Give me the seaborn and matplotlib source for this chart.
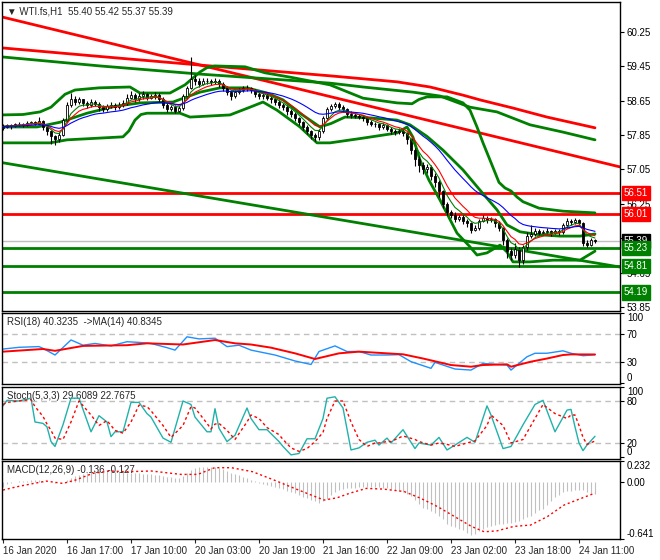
import numpy as np
import pandas as pd
import seaborn as sns
import matplotlib
matplotlib.use("Agg")
import matplotlib.pyplot as plt
import matplotlib.transforms as mtransforms

# WTI.fs H1 candles, 16 Jan 2020 -> 24 Jan 2020
first_open = 58.02
closes = [58.05, 58.08, 58.06, 58.10, 58.12, 58.09, 58.13, 58.15, 58.12, 58.18,
          58.05, 57.95, 57.82, 57.75, 57.85, 58.20, 58.55, 58.70, 58.62, 58.68,
          58.60, 58.55, 58.62, 58.58, 58.50, 58.45, 58.52, 58.55, 58.50, 58.55,
          58.60, 58.72, 58.78, 58.70, 58.75, 58.80, 58.72, 58.76, 58.78, 58.70,
          58.55, 58.45, 58.50, 58.42, 58.48, 58.75, 58.95, 59.15, 59.10, 59.05,
          59.10, 59.12, 59.08, 59.12, 59.05, 58.95, 58.85, 58.75, 58.85, 58.90,
          58.95, 58.95, 58.90, 58.80, 58.75, 58.78, 58.72, 58.68, 58.62, 58.55,
          58.50, 58.40, 58.35, 58.25, 58.15, 58.05, 57.95, 57.85, 57.80, 57.95,
          58.25, 58.45, 58.52, 58.58, 58.50, 58.45, 58.35, 58.32, 58.30, 58.28,
          58.25, 58.15, 58.12, 58.10, 58.05, 58.08, 58.00, 57.95, 57.92, 57.95,
          57.90, 57.75, 57.50, 57.30, 57.15, 57.05, 57.10, 56.90, 56.75, 56.55,
          56.25, 56.05, 56.00, 55.90, 55.95, 55.85, 55.80, 55.65, 55.70, 55.85,
          55.92, 55.88, 55.90, 55.80, 55.70, 55.40, 55.15, 55.05, 55.20, 54.95,
          55.25, 55.50, 55.55, 55.62, 55.58, 55.60, 55.63, 55.58, 55.62, 55.60,
          55.75, 55.85, 55.82, 55.88, 55.80, 55.35, 55.30, 55.40, 55.39]
highs = [58.10, 58.12, 58.11, 58.14, 58.16, 58.14, 58.17, 58.19, 58.18, 58.28,
         58.20, 58.08, 57.98, 57.86, 57.92, 58.25, 58.62, 58.82, 58.75, 58.74,
         58.70, 58.64, 58.70, 58.66, 58.62, 58.54, 58.58, 58.62, 58.60, 58.61,
         58.66, 58.80, 58.88, 58.82, 58.82, 58.88, 58.84, 58.80, 58.85, 58.82,
         58.73, 58.60, 58.56, 58.54, 58.53, 58.80, 59.00, 59.67, 59.25, 59.18,
         59.17, 59.19, 59.16, 59.17, 59.15, 59.08, 59.00, 58.90, 58.90, 58.95,
         59.00, 59.02, 58.98, 58.93, 58.85, 58.84, 58.82, 58.76, 58.72, 58.66,
         58.60, 58.54, 58.45, 58.38, 58.28, 58.18, 58.08, 57.98, 57.90, 58.00,
         58.30, 58.50, 58.58, 58.62, 58.62, 58.55, 58.48, 58.40, 58.37, 58.35,
         58.32, 58.28, 58.20, 58.16, 58.14, 58.13, 58.11, 58.05, 58.00, 58.01,
         57.99, 57.93, 57.78, 57.55, 57.36, 57.22, 57.18, 57.15, 56.96, 56.80,
         56.58, 56.30, 56.10, 56.05, 56.00, 55.98, 55.90, 55.82, 55.76, 55.90,
         55.98, 55.96, 55.95, 55.92, 55.84, 55.72, 55.45, 55.22, 55.35, 55.25,
         55.30, 55.60, 55.75, 55.68, 55.66, 55.65, 55.68, 55.64, 55.67, 55.66,
         55.80, 55.92, 55.90, 55.93, 55.90, 55.82, 55.42, 55.45, 55.43]
lows = [57.98, 58.02, 58.00, 58.03, 58.07, 58.05, 58.06, 58.10, 58.08, 58.10,
        57.98, 57.85, 57.65, 57.62, 57.70, 57.82, 58.15, 58.50, 58.55, 58.58,
        58.52, 58.48, 58.50, 58.52, 58.42, 58.38, 58.40, 58.48, 58.44, 58.46,
        58.50, 58.56, 58.68, 58.62, 58.65, 58.70, 58.66, 58.70, 58.68, 58.62,
        58.48, 58.38, 58.40, 58.36, 58.38, 58.44, 58.70, 58.92, 59.02, 58.98,
        59.02, 59.05, 59.02, 59.03, 58.98, 58.88, 58.78, 58.67, 58.72, 58.80,
        58.86, 58.88, 58.84, 58.74, 58.68, 58.70, 58.66, 58.60, 58.55, 58.48,
        58.43, 58.32, 58.28, 58.18, 58.08, 57.98, 57.88, 57.76, 57.72, 57.74,
        57.90, 58.20, 58.42, 58.48, 58.44, 58.38, 58.28, 58.26, 58.24, 58.22,
        58.18, 58.08, 58.06, 58.04, 57.98, 58.00, 57.94, 57.88, 57.86, 57.88,
        57.82, 57.65, 57.40, 57.12, 57.00, 56.95, 56.96, 56.80, 56.64, 56.40,
        56.15, 55.98, 55.92, 55.82, 55.85, 55.78, 55.72, 55.58, 55.62, 55.65,
        55.82, 55.80, 55.82, 55.72, 55.62, 55.30, 55.00, 54.95, 54.98, 54.78,
        54.85, 55.18, 55.45, 55.50, 55.50, 55.52, 55.56, 55.50, 55.54, 55.52,
        55.55, 55.70, 55.75, 55.78, 55.74, 55.28, 55.25, 55.28, 55.35]

ma_spans = {"green": 5, "red": 8, "blue": 21}

# Bollinger band lines (bar index, price)
bb_up_bars = [-0.25, 5, 9.25, 12, 15.5, 18, 24, 31.75, 34.25, 41.75, 45.5, 47.5, 49.25, 51, 53,
              60.5, 65.5, 71.75, 81.75, 90, 98.5, 102.25, 104, 106, 111, 115,
              116.75, 118.5, 120, 121.75, 124, 125.5, 127, 128.5, 130, 134, 140, 148]
bb_up = [58.32, 58.33, 58.39, 58.50, 58.80, 58.90, 58.95, 58.97, 58.83, 58.83, 59.02, 59.18, 59.32, 59.42, 59.46,
         59.44, 59.30, 59.20, 59.02, 58.71, 58.60, 58.58, 58.68, 58.74, 58.74, 58.60,
         58.43, 58.04, 57.67, 57.27, 56.75, 56.62, 56.55, 56.41, 56.30, 56.15, 56.08, 56.04]
bb_mid_bars = [-0.25, 8.5, 14.25, 21, 28, 34.25, 42.5, 46, 49.25, 54.25, 61,
               66, 70, 74.25, 79.25, 82, 85.5, 92, 98.5, 101.75, 106, 110, 115, 119.25,
               123.5, 126, 129.25, 134.25, 139.25, 144.25, 148]
bb_mid = [58.04, 58.04, 58.15, 58.36, 58.52, 58.60, 58.62, 58.74, 58.85, 58.95, 58.95,
          58.83, 58.67, 58.36, 58.04, 58.12, 58.27, 58.25, 58.20, 58.09, 57.82, 57.50, 57.04, 56.57,
          56.11, 55.76, 55.60, 55.53, 55.50, 55.50, 55.55]
bb_lo_bars = [-0.25, 11.75, 16, 30, 31.5, 33, 34.5, 36, 44.25, 46.75, 56.75, 61.75,
              65, 68.5, 74.25, 78.5, 81.75, 90, 98.5, 101, 102.5, 104.25, 106.5, 109.25,
              113.5, 116.75, 118.5, 121, 124.25, 126, 127.5, 131.75, 137.5, 144.25, 148]
bb_lo = [57.67, 57.67, 57.74, 57.81, 57.95, 58.20, 58.33, 58.36, 58.36, 58.27, 58.32, 58.50,
         58.62, 58.43, 58.04, 57.67, 57.67, 57.78, 57.90, 58.04, 57.80, 57.27, 56.80, 56.34,
         55.57, 55.25, 55.06, 55.11, 55.29, 55.13, 54.90, 54.90, 54.94, 54.94, 55.15]

# slow averages
slow_red_bars = [-0.25, 24.25, 49.25, 81.75, 98.5, 106.75, 115, 119.25, 127.5, 136, 148]
slow_red = [59.88, 59.68, 59.48, 59.23, 59.09, 58.97, 58.78, 58.67, 58.48, 58.27, 58.02]
slow_green_bars = [-0.25, 24.25, 49.25, 81.75, 90, 102.5, 109.25, 116.75, 123.5, 131.75, 140, 148]
slow_green = [59.67, 59.46, 59.27, 59.06, 58.97, 58.85, 58.76, 58.50, 58.39, 58.09, 57.92, 57.74]

# trend lines (value at left and right edge of the chart)
trend_ends = [-0.25, 154.25]
trend_red = [60.60, 57.11]
trend_green = [57.21, 54.78]

res_levels = [56.51, 56.01]
sup_levels = [55.23, 54.81, 54.19]
last_price = 55.39
price_ticks = [60.25, 59.45, 58.65, 57.85, 57.05, 56.25, 55.45, 54.65, 53.85]
price_labels = ["60.25", "59.45", "58.65", "57.85", "57.05", "56.25", "", "54.65", "53.85"]

# RSI(18) and its MA(14)
rsi_bars = [0, 4, 9, 10, 13, 17, 20, 23, 27, 31, 34, 37, 41, 43, 46, 49, 53, 56, 59, 62,
            68, 73, 77, 79, 83, 86, 89, 92, 96, 99, 102, 107, 108, 113, 117, 120, 126, 127,
            131, 133, 136, 140, 142, 145, 148]
rsi_vals = [48.5, 51, 52, 49.5, 40, 61.5, 54, 56.5, 53, 59, 58, 56.5, 50.5, 47, 66, 63, 64, 52,
            54, 47, 40, 31.5, 26.5, 45, 53, 45, 45, 40, 40, 40.5, 30.5, 21, 29.5, 20, 18.5,
            28, 25.5, 18.5, 37.5, 42.5, 42.5, 46, 42.5, 39, 40.3]
rsi_ma_bars = [0, 10, 13, 20, 31, 36, 45, 53, 58, 62, 67, 73, 78, 84, 89, 100, 105, 112, 117,
               120, 126, 127, 132, 136, 140, 142, 148]
rsi_ma_vals = [44.8, 48.6, 46, 53, 54, 56.7, 55, 61.4, 56.7, 55, 50.5, 42.4, 34.3, 42.4, 44.8,
               41, 35, 25.7, 23.3, 25.7, 26.7, 23.3, 30.5, 35, 40, 40.9, 40.8]

# Stochastic(5,3,3)
stoch_bars = [0, 1, 4, 7, 8, 10, 11, 12, 13, 15, 17, 19, 22, 24, 26, 27, 28, 30, 32, 34,
              36, 37, 40, 42, 45, 47, 48, 51, 52, 53, 54, 56, 58, 61, 62, 64, 66, 69, 70, 72,
              74, 76, 78, 80, 81, 83, 85, 87, 89, 91, 93, 94, 96, 97, 100, 103, 104, 107, 109, 111,
              113, 116, 118, 121, 122, 125, 127, 130, 133, 135, 138, 141, 142, 143, 144, 145, 146, 148]
stoch_main = [73, 81, 80, 84, 50, 48, 43, 22, 15, 46, 84, 84, 36, 59, 50, 29, 36, 36, 78, 78,
              62, 57, 27, 21, 80, 75, 57, 36, 36, 69, 41, 22, 31, 70, 55, 39, 39, 22, 15, 3,
              5, 26, 26, 55, 84, 86, 70, 10, 13, 21, 24, 17, 27, 20, 39, 12, 20, 17, 28, 10,
              17, 28, 21, 73, 60, 12, 15, 46, 75, 81, 36, 67, 68, 43, 20, 9, 17, 29.6]
stoch_signal = [75, 78, 80, 82, 72, 58, 47, 38, 27, 25, 50, 80, 60, 45, 52, 45, 38, 34, 50, 74,
                72, 66, 45, 28, 45, 72, 70, 48, 40, 47, 48, 38, 25, 50, 60, 55, 42, 32, 25, 13,
                8, 12, 22, 35, 55, 80, 80, 50, 25, 15, 20, 20, 22, 22, 30, 25, 22, 17, 20, 18,
                15, 20, 23, 45, 60, 45, 20, 25, 55, 75, 62, 55, 60, 60, 45, 28, 18, 22.8]

# MACD(12,26,9): histogram per bar, signal line
macd_hist = [-0.06, -0.03, -0.01, 0.0, 0.01, 0.01, 0.01, 0.02, 0.02, 0.02,
             0.01, 0.0, 0.0, -0.01, 0.0, 0.0, 0.02, 0.04, 0.06, 0.08,
             0.09, 0.10, 0.11, 0.12, 0.13, 0.13, 0.12, 0.12, 0.11, 0.11,
             0.105, 0.10, 0.10, 0.095, 0.095, 0.09, 0.09, 0.09, 0.08, 0.07,
             0.06, 0.055, 0.05, 0.045, 0.045, 0.06, 0.10, 0.13, 0.15, 0.16,
             0.17, 0.17, 0.165, 0.16, 0.155, 0.14, 0.12, 0.10, 0.085, 0.07,
             0.055, 0.04, 0.02, 0.005, -0.01, -0.02, -0.035, -0.045, -0.055, -0.07,
             -0.08, -0.10, -0.12, -0.13, -0.15, -0.17, -0.185, -0.20, -0.22, -0.24,
             -0.22, -0.19, -0.15, -0.11, -0.095, -0.085, -0.075, -0.07, -0.065, -0.06,
             -0.055, -0.055, -0.055, -0.056, -0.06, -0.065, -0.075, -0.085, -0.095, -0.105,
             -0.12, -0.14, -0.165, -0.20, -0.25, -0.29, -0.31, -0.33, -0.35, -0.38,
             -0.42, -0.47, -0.49, -0.51, -0.53, -0.54, -0.57, -0.60, -0.58, -0.55,
             -0.53, -0.51, -0.49, -0.48, -0.475, -0.47, -0.465, -0.46, -0.45, -0.44,
             -0.42, -0.40, -0.38, -0.35, -0.32, -0.30, -0.26, -0.22, -0.175, -0.15,
             -0.12, -0.105, -0.10, -0.095, -0.093, -0.095, -0.11, -0.125, -0.136]
macd_sig_bars = [0, 3.5, 7.7, 10.8, 15, 18.2, 22.4, 26.6, 30.8, 37.1, 44.5, 48.7, 52.9, 57.1,
                 62.4, 67.7, 72.9, 77.1, 80.3, 83.5, 86.6, 90.8, 95, 100.3, 104.5, 108.7, 112.9,
                 117.1, 120.3, 123.5, 127.7, 131.9, 136.1, 140.3, 144.5, 148]
macd_sig = [-0.093, -0.056, -0.019, 0.007, -0.019, 0.02, 0.093, 0.12, 0.112, 0.12, 0.082, 0.082,
            0.157, 0.157, 0.112, 0.02, -0.075, -0.15, -0.205, -0.18, -0.13, -0.075, -0.082, -0.11,
            -0.187, -0.28, -0.39, -0.5, -0.56, -0.55, -0.5, -0.485, -0.39, -0.26, -0.187, -0.127]

time_ticks = [0, 16, 32, 48, 64, 80, 96, 112, 128, 144]
time_labels = ["16 Jan 2020", "16 Jan 17:00", "17 Jan 10:00", "20 Jan 03:00", "20 Jan 19:00",
               "21 Jan 16:00", "22 Jan 09:00", "23 Jan 02:00", "23 Jan 18:00", "24 Jan 11:00"]

GREEN = "#008000"
RED = "#ff0000"

sns.set_style("white")
plt.rcParams["font.family"] = ["Liberation Sans", "DejaVu Sans"]
plt.rcParams["font.size"] = 7

fig = plt.figure(figsize=(6.6, 5.6), dpi=100)
W, H = 660, 560


def panel(top, bottom):
    ax = fig.add_axes([2 / W, 1 - bottom / H, 618 / W, (bottom - top) / H])
    ax.set_xlim(-0.25, 154.25)
    for s in ax.spines.values():
        s.set_color("black")
        s.set_linewidth(1)
    ax.yaxis.tick_right()
    ax.tick_params(axis="y", direction="out", length=3, width=0.8, pad=2,
                   labelsize=7, colors="black", right=True, left=False)
    ax.set_xticks([])
    return ax


def title(ax, text):
    ax.annotate(text, xy=(0, 1), xycoords="axes fraction", xytext=(5, -9),
                textcoords="offset pixels", va="center", ha="left", fontsize=7, zorder=1)


bars = np.arange(len(closes))
c = np.array(closes)
o = np.array([first_open] + closes[:-1])
hi = np.array(highs)
lo = np.array(lows)

# ---------------- main price chart ----------------
ax = panel(2, 311)
ax.set_ylim(53.757, 60.948)
ax.set_yticks(price_ticks)
ax.set_yticklabels(price_labels)

ax.axhline(last_price, color="#c0c0c0", lw=1, zorder=1)
for lv in res_levels:
    ax.axhline(lv, color=RED, lw=2, zorder=2)
for lv in sup_levels:
    ax.axhline(lv, color=GREEN, lw=2, zorder=2)

sns.lineplot(x=trend_ends, y=trend_red, ax=ax, color=RED, lw=2, zorder=2)
sns.lineplot(x=trend_ends, y=trend_green, ax=ax, color=GREEN, lw=2, zorder=2)
sns.lineplot(x=slow_red_bars, y=slow_red, ax=ax, color=RED, lw=2, zorder=2)
sns.lineplot(x=slow_green_bars, y=slow_green, ax=ax, color=GREEN, lw=2, zorder=2)
for xs, ys in [(bb_up_bars, bb_up), (bb_mid_bars, bb_mid), (bb_lo_bars, bb_lo)]:
    sns.lineplot(x=xs, y=ys, ax=ax, color=GREEN, lw=2, zorder=2)

# candles
up = c >= o
ax.vlines(bars, lo, hi, color="black", lw=0.8, zorder=3)
body_lo = np.minimum(o, c)
body_h = np.maximum(np.abs(c - o), 0.008)
ax.bar(bars, body_h, bottom=body_lo, width=0.7,
       color=np.where(up, "white", "black"), edgecolor="black", lw=0.6, zorder=3)

# fast moving averages
ma_colors = {"green": GREEN, "red": RED, "blue": "#0000ff"}
closes_s = pd.Series(closes)
for name, span in ma_spans.items():
    ma = closes_s.ewm(span=span, adjust=False).mean()
    sns.lineplot(x=bars, y=ma.values, ax=ax, color=ma_colors[name], lw=0.8, zorder=4)

title(ax, "\u25bc WTI.fs,H1  55.40 55.42 55.37 55.39")

trans = mtransforms.blended_transform_factory(ax.transAxes, ax.transData)
boxes = [(last_price, "black")] + [(lv, RED) for lv in res_levels] + [(lv, GREEN) for lv in sup_levels]
for lv, col in boxes:
    ax.text(1.006, lv, f"{lv:.2f}", transform=trans, color="white", fontsize=7,
            va="center", ha="left", clip_on=False, zorder=6,
            bbox=dict(boxstyle="square,pad=0.22", fc=col, ec=col))

# ---------------- RSI ----------------
ax_rsi = panel(313, 384)
ax_rsi.set_ylim(-1.4, 100)
for lv in [70, 30]:
    ax_rsi.axhline(lv, color="#c0c0c0", lw=1, ls=(0, (4, 3)))
sns.lineplot(x=rsi_bars, y=rsi_vals, ax=ax_rsi, color="#1e90ff", lw=1)
sns.lineplot(x=rsi_ma_bars, y=rsi_ma_vals, ax=ax_rsi, color=RED, lw=1.4)
ax_rsi.set_yticks([100, 70, 30, 0])
ax_rsi.set_yticklabels(["100", "70", "30", "0"])
title(ax_rsi, "RSI(18) 40.3235  ->MA(14) 40.8345")

# ---------------- Stochastic ----------------
ax_st = panel(387, 459)
ax_st.set_ylim(-2.9, 100)
for lv in [80, 20]:
    ax_st.axhline(lv, color="#c0c0c0", lw=1, ls=(0, (4, 3)))
title(ax_st, "Stoch(5,3,3) 29.6089 22.7675")
sns.lineplot(x=stoch_bars, y=stoch_main, ax=ax_st, color="#20b2aa", lw=1)
sns.lineplot(x=stoch_bars, y=stoch_signal, ax=ax_st, color=RED, lw=1, ls=(0, (2, 2)))
ax_st.set_yticks([100, 80, 20, 0])
ax_st.set_yticklabels(["100", "80", "20", "0"])

# ---------------- MACD ----------------
ax_m = panel(461, 539)
ax_m.set_ylim(-0.641, 0.232)
ax_m.vlines(bars, 0, macd_hist, color="#c0c0c0", lw=0.8)
sns.lineplot(x=macd_sig_bars, y=macd_sig, ax=ax_m, color=RED, lw=1, ls=(0, (1.5, 2)))
ax_m.set_yticks([0.232, 0.0, -0.641])
ax_m.set_yticklabels(["0.232", "0.00", "-0.641"])
title(ax_m, "MACD(12,26,9) -0.136 -0.127")
ax_m.set_xticks(time_ticks)
ax_m.set_xticklabels(time_labels, ha="left")
ax_m.tick_params(axis="x", direction="out", length=3, width=0.8, pad=2, labelsize=7, bottom=True)

for a in [ax, ax_rsi, ax_st, ax_m]:
    a.set_xlabel("")
    a.set_ylabel("")
    if a.get_legend() is not None:
        a.get_legend().remove()

# end labels sit inside the panel
for a in [ax_rsi, ax_st, ax_m]:
    labs = a.get_yticklabels()
    labs[0].set_va("top")
    labs[-1].set_va("bottom")

fig.savefig("out.png", dpi=100)
